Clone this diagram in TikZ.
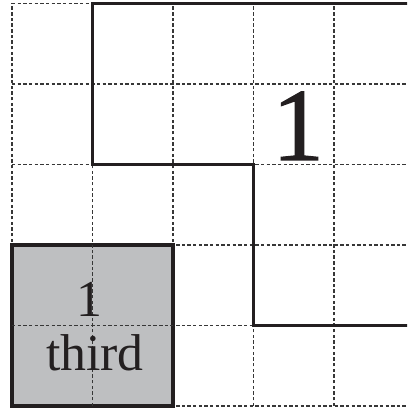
\documentclass[tikz,border=0pt]{standalone}
\usepackage{fontspec}
\setmainfont{Liberation Serif}
\newfontfamily\heavyserif[FakeBold=1.2]{Liberation Serif}
\definecolor{cellgray}{RGB}{190,191,193}
\definecolor{gridgray}{RGB}{55,55,55}
\definecolor{inkcolor}{RGB}{35,31,32}
\begin{document}
\begin{tikzpicture}[
  gridline/.style={draw=gridgray, line width=0.45pt, dash pattern=on 1.2pt off 0.8pt},
  boldline/.style={draw=inkcolor, line width=1.25pt},
  cellbox/.style={boldline, fill=cellgray},
  bigtext/.style={font=\heavyserif\fontsize{36.5}{40}\selectfont, text=inkcolor, inner sep=0pt, anchor=base},
  smalltext/.style={font=\fontsize{18.3}{20}\selectfont, text=inkcolor, inner sep=0pt, anchor=base}
]
\useasboundingbox (-0.149,-0.037) rectangle (4.907,5.043);
\clip (-0.149,-0.037) rectangle (4.907,5.043);
\draw[gridline] (0,0) grid (5,5);
\draw[boldline] (5.3,5) -- (1,5) -- (1,3) -- (3,3) -- (3,1) -- (5.3,1);
\draw[cellbox] (0,0) rectangle (2,2);
\draw[gridline] (0,1) -- (2,1) (1,0) -- (1,2);
\node[bigtext] (big) at (3.553,3.056) {1};
\node[smalltext] (one) at (0.96,1.106) {1};
\node[smalltext] (third) at (1.03,0.447) {third};
\end{tikzpicture}
\end{document}
